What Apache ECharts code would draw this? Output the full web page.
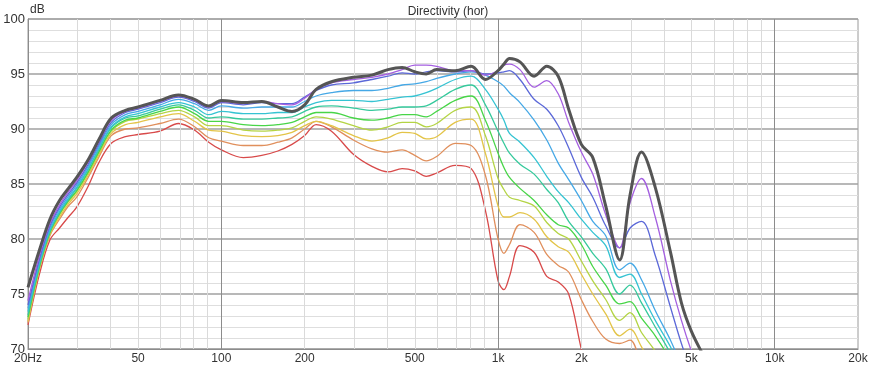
<!DOCTYPE html>
<html>
<head>
<meta charset="utf-8">
<script src="https://cdn.jsdelivr.net/npm/echarts@6/dist/echarts.min.js"></script>
<style>html,body{margin:0;padding:0;background:#fff}#c{width:875px;height:373px}</style>
</head>
<body>
<div id="c"></div>
<script>
// Frequencies (Hz) shared by all curves
const FREQ = [20,22,24,26,28,30,33,36,40,45, 50,60,70,80,90,100,120,140,160,180,
  200,220,250,300,350,400,450,500,550,600, 700,800,900,1000,1050,1100,1200,1350,1500,1650,
  1800,2000,2200,2450,2750,3000,3300,3700,4200,4600, 5000,5500,6500];

// SPL curves (dB), top (thick grey) to bottom (red)
const curve0 = [75.6,79.0,81.8,83.5,84.6,85.6,87.2,89.0,91.0,91.7, 92.0,92.6,93.1,92.7,92.1,92.6,92.4,92.5,92.0,91.6,
  92.2,93.6,94.3,94.7,94.9,95.4,95.6,95.2,95.0,95.4, 95.3,95.7,94.5,95.3,95.9,96.4,96.1,94.8,95.7,94.8,
  91.8,88.6,87.4,83.0,78.1,84.0,87.9,84.7,78.8,74.2, 71.6,69.5,66.0];
const curve1 = [74.4,78.5,81.4,83.1,84.3,85.3,87.0,88.8,90.8,91.6, 91.9,92.5,93.0,92.6,92.0,92.5,92.3,92.5,92.3,92.2,
  92.8,93.6,94.2,94.5,94.7,95.0,95.4,95.8,95.8,95.7, 95.3,95.3,94.9,95.3,95.8,95.9,95.4,93.8,94.4,93.2,
  90.6,87.9,85.9,82.2,79.2,83.3,85.5,82.0,76.2,72.6, 69.8,67.0,64.0];
const curve2 = [74.0,78.2,81.2,82.9,84.1,85.1,86.8,88.6,90.6,91.5, 91.8,92.4,92.9,92.5,91.9,92.4,92.2,92.4,92.3,92.3,
  92.9,93.5,94.0,94.2,94.5,94.8,95.1,95.0,95.2,95.3, 95.2,95.3,95.0,95.1,95.2,95.3,94.5,92.7,91.8,90.3,
  88.3,85.6,83.8,81.2,79.2,81.0,81.6,78.5,73.8,70.5, 68.0,66.0,63.0];
const curve3 = [73.7,78.0,81.0,82.7,83.9,84.9,86.6,88.4,90.4,91.3, 91.6,92.2,92.7,92.3,91.7,92.1,91.9,92.0,92.0,92.0,
  92.5,93.0,93.3,93.5,93.5,93.7,94.0,94.1,94.3,94.6, 95.0,95.2,94.9,94.3,93.9,93.3,92.4,90.8,89.0,86.9,
  85.4,83.5,81.6,80.3,77.2,77.8,76.3,73.5,70.8,68.5, 66.5,64.0,61.0];
const curve4 = [73.4,77.8,80.8,82.5,83.7,84.7,86.4,88.2,90.2,91.1, 91.4,92.0,92.4,92.0,91.3,91.6,91.4,91.4,91.5,91.5,
  92.0,92.4,92.6,92.6,92.5,92.7,92.9,93.0,93.3,93.7, 94.5,94.8,93.6,91.8,90.8,89.6,88.8,87.4,85.7,84.3,
  83.3,81.8,80.6,79.4,76.5,76.8,75.0,72.6,70.2,68.0, 66.0,63.0,60.0];
const curve5 = [73.1,77.6,80.7,82.4,83.6,84.6,86.3,88.1,90.1,91.0, 91.2,91.8,92.2,91.7,91.0,91.1,90.9,90.9,91.0,91.1,
  91.6,92.0,92.1,91.9,91.7,91.8,92.0,92.0,92.1,92.6, 93.6,94.0,92.2,89.8,88.7,87.8,86.8,85.9,84.5,83.3,
  81.6,80.2,78.7,77.3,75.0,75.8,74.2,72.0,69.6,67.5, 65.5,62.5,59.5];
const curve6 = [72.9,77.5,80.6,82.3,83.5,84.4,86.1,87.9,89.9,90.8, 91.0,91.6,92.0,91.4,90.7,90.7,90.4,90.3,90.4,90.6,
  91.1,91.5,91.5,91.0,90.8,91.0,91.3,91.3,91.1,91.6, 92.6,93.0,90.8,87.8,86.5,85.6,84.6,83.5,82.2,81.3,
  81.0,79.5,77.5,75.8,74.1,74.3,72.8,71.2,69.0,67.0, 65.0,62.0,59.0];
const curve7 = [72.7,77.4,80.5,82.2,83.4,84.3,86.0,87.8,89.8,90.7, 90.9,91.4,91.7,91.1,90.3,90.3,89.9,89.8,89.9,90.1,
  90.7,91.1,90.9,90.3,89.9,90.2,90.6,90.6,90.2,90.5, 91.7,92.0,89.4,85.5,84.5,83.8,83.5,83.0,81.5,80.5,
  80.0,78.0,76.2,74.5,72.6,73.3,71.5,69.8,67.5,65.5, 63.5,61.0,58.0];
const curve8 = [72.5,77.3,80.4,82.0,83.2,84.1,85.8,87.6,89.6,90.4, 90.6,91.1,91.4,90.7,89.9,89.8,89.4,89.3,89.4,89.7,
  90.3,90.7,90.3,89.4,88.9,89.2,89.7,89.6,89.1,89.3, 90.6,90.9,87.8,83.0,82.0,82.0,82.4,81.8,80.2,79.3,
  78.8,76.8,75.0,73.2,71.2,71.8,70.2,68.0,66.0,64.0, 62.0,60.0,57.0];
const curve9 = [72.4,77.2,80.3,81.8,83.0,83.8,85.6,87.4,89.4,90.0, 90.1,90.5,90.9,90.2,89.2,88.9,88.5,88.5,88.8,89.2,
  90.0,90.7,90.2,89.0,88.2,87.9,88.1,87.6,87.1,87.5, 88.7,88.5,85.8,80.0,78.7,79.5,81.3,80.6,78.6,77.6,
  77.0,74.5,72.5,70.9,70.5,70.8,68.5,66.0,64.0,62.0, 60.0,58.0,56.0];
const curve10 = [72.2,76.8,79.9,81.0,82.0,82.9,84.8,86.9,88.7,89.3, 89.5,89.8,90.5,89.9,88.8,88.1,87.4,87.6,88.0,88.6,
  89.4,90.4,89.8,87.7,86.6,86.1,86.4,86.2,85.7,86.0, 86.7,86.4,82.6,76.2,75.4,76.6,79.4,78.8,76.6,76.1,
  75.0,70.0,66.0,63.0,61.0,60.0,58.0,56.0,54.0,52.0, 50.0,48.0,46.0];

const CURVES = [curve0,curve1,curve2,curve3,curve4,curve5,curve6,curve7,curve8,curve9,curve10];
const COLORS = ['#555555','#a45fe0','#5b68d8','#45a8e6','#35c3d2','#36c99c','#48d548','#b4d445','#e3c448','#e08f5c','#d84a4a'];

// axis ticks
const X_TICKS = [20,50,100,200,500,1000,2000,5000,10000,20000];
const X_LABELS = ['20Hz','50','100','200','500','1k','2k','5k','10k','20k'];
const X_MINOR = [30,40,50,60,70,80,90,200,300,400,500,600,700,800,900,2000,3000,4000,5000,6000,7000,8000,9000];
const X_MAJOR = [100,1000,10000];

const L = v => Math.log10(v);
const chart = echarts.init(document.getElementById('c'), null, {renderer:'canvas'});

const series = [];
series.push({type:'line', data:[], silent:true, z:1, animation:false,
  markLine:{silent:true, symbol:['none','none'], label:{show:false}, animation:false,
    lineStyle:{color:'#dadada', width:1, type:'solid'},
    data: X_MINOR.map(f=>({xAxis:L(f)}))}});
series.push({type:'line', data:[], silent:true, z:1, animation:false,
  markLine:{silent:true, symbol:['none','none'], label:{show:false}, animation:false,
    lineStyle:{color:'#8c8c8c', width:1, type:'solid'},
    data: X_MAJOR.map(f=>({xAxis:L(f)}))}});
for (let i = CURVES.length-1; i >= 0; i--) {
  series.push({
    type:'line', name:'c'+i, z: 3 + (CURVES.length - i),
    data: FREQ.map((f,k)=>[L(f), CURVES[i][k]]),
    smooth: 0.35, showSymbol:false, symbol:'none', clip:true, animation:false,
    lineStyle:{color:COLORS[i], width: i===0 ? 3 : 1.3},
    itemStyle:{color:COLORS[i]}
  });
}

chart.setOption({
  animation:false,
  backgroundColor:'#ffffff',
  textStyle:{fontFamily:'Liberation Sans, Arial, sans-serif'},
  title:{text:'Directivity (hor)', left:443, top:1, textAlign:'center',
    textStyle:{fontSize:12, fontWeight:'normal', color:'#333', fontFamily:'Liberation Sans, Arial, sans-serif'}},
  graphic:[{type:'text', left:30, top:4, silent:true,
    style:{text:'dB', fill:'#333', fontSize:12, fontFamily:'Liberation Sans, Arial, sans-serif'}}],
  grid:{left:28, right:17, top:19, bottom:24, show:true, borderColor:'#9a9a9a', borderWidth:1, containLabel:false},
  xAxis:{type:'value', min:L(20), max:L(20000),
    axisLine:{show:true, lineStyle:{color:'#8c8c8c'}},
    axisTick:{show:false}, splitLine:{show:false},
    axisLabel:{customValues: X_TICKS.map(L), margin:4, color:'#333', fontSize:12,
      formatter: v => { for (let i=0;i<X_TICKS.length;i++) if (Math.abs(L(X_TICKS[i])-v)<1e-6) return X_LABELS[i]; return ''; }}},
  yAxis:{type:'value', min:70, max:100, interval:5,
    axisLine:{show:true, lineStyle:{color:'#8c8c8c'}},
    axisTick:{show:false},
    axisLabel:{margin:3, color:'#333', fontSize:13},
    splitLine:{show:true, lineStyle:{color:'#a0a0a0', width:1.5}},
    minorTick:{show:false, splitNumber:5},
    minorSplitLine:{show:true, lineStyle:{color:'#dedede', width:1}}},
  series: series
});
</script>
</body>
</html>
